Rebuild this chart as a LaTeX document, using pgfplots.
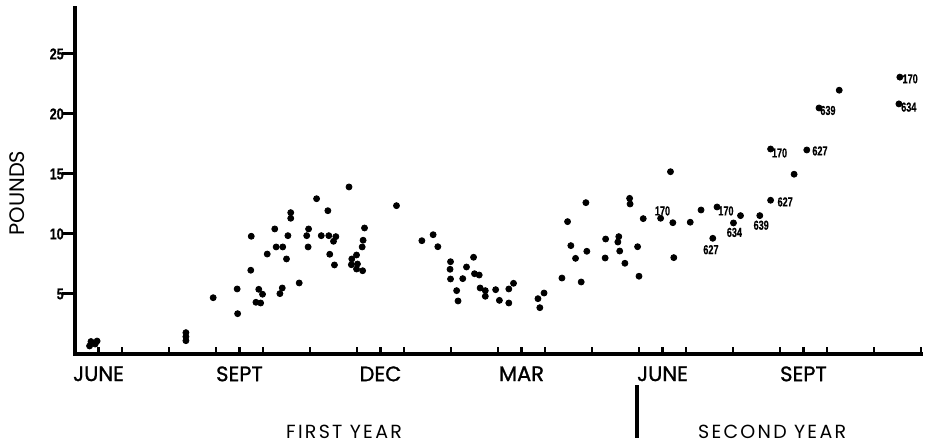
\documentclass[border=0pt]{standalone}
\usepackage{pgfplots}
\pgfplotsset{compat=1.18}
\usepackage{pgfplotstable}
\usepackage{fontspec}
\setmainfont{Poppins}
\newfontfamily\numfont[FakeStretch=0.8, FakeBold=0.6]{Liberation Sans}
\newfontfamily\lblfont[FakeStretch=0.7, FakeBold=0.4]{Liberation Sans}
\newfontfamily\monthfont[FakeBold=1.2]{Poppins}
\newfontfamily\yearfont[LetterSpace=12]{Poppins}
\newcommand\lbl{\fontsize{6.5pt}{7pt}\lblfont\bfseries}

% m = months after the first June tick, v = pounds
\pgfplotstableread{
m v
0.31 0.67
0.34 1.04
0.43 0.83
0.47 1.08
2.36 1.78
2.36 1.44
2.36 1.11
2.94 4.69
3.45 5.42
3.46 3.36
3.75 9.81
3.74 6.98
3.85 4.31
3.95 4.25
3.91 5.39
3.99 4.98
4.09 8.33
4.25 10.42
4.28 8.92
4.42 8.92
4.36 5.03
4.41 5.50
4.50 7.92
4.53 9.86
4.59 11.78
4.59 11.31
4.77 5.92
4.93 9.86
4.97 10.42
4.96 8.92
5.14 12.94
5.24 9.86
5.40 9.86
5.55 9.78
5.50 9.39
5.38 11.94
5.42 8.31
5.52 7.42
5.83 13.92
6.16 10.50
6.13 9.48
6.11 8.92
5.99 8.25
5.89 7.92
5.88 7.44
6.01 7.50
5.99 7.08
6.12 6.94
6.84 12.36
7.38 9.44
7.62 9.94
7.72 8.94
7.99 7.69
7.98 7.06
7.99 6.25
8.12 5.28
8.15 4.42
8.25 6.28
8.33 7.25
8.48 8.06
8.50 6.69
8.60 6.58
8.62 5.50
8.73 5.28
8.73 4.81
8.95 5.36
9.03 4.47
9.23 5.42
9.33 5.89
9.23 4.25
9.85 4.61
9.98 5.08
9.89 3.86
10.36 6.33
10.48 11.03
10.55 9.03
10.65 7.97
10.77 6.00
10.87 12.61
10.89 8.56
11.29 9.58
11.28 8.00
11.57 9.78
11.55 9.33
11.59 8.58
11.70 7.56
11.80 12.97
11.81 12.50
11.97 8.94
12.00 6.48
12.09 11.28
12.46 11.31
12.67 15.19
12.72 10.94
12.74 8.03
13.09 10.98
13.32 12.00
13.57 9.64
13.66 12.25
14.01 10.92
14.16 11.53
14.57 11.53
14.80 12.81
14.80 17.08
15.30 14.98
15.57 17.00
15.83 20.50
16.26 21.98
17.55 23.07
17.53 20.84
}\weights

\begin{document}
\begin{tikzpicture}
\begin{axis}[
  at={(0,0)}, anchor=south west,
  scale only axis, width=423pt, height=173pt,
  xmin=0, xmax=18, ymin=0, ymax=28.83,
  clip=false,
  axis x line*=bottom, axis y line*=left,
  axis line style={line width=2pt, line cap=rect},
  xtick={1,...,18}, xticklabels={},
  xtick align=inside, ytick align=outside,
  x tick style={line width=1.3pt, black, /pgfplots/major tick length=3.5pt},
  ytick={5,10,15,20,25},
  y tick style={line width=1.5pt, black, /pgfplots/major tick length=6.5pt},
  yticklabels={5,10,15,20,25},
  yticklabel style={font=\fontsize{7.8pt}{8pt}\numfont\bfseries, inner sep=0pt, xshift=-1.2pt},
  extra x ticks={0.5,3.5,6.5,9.5,12.5,15.5},
  extra x tick labels={JUNE,SEPT,DEC,MAR,JUNE,SEPT},
  extra x tick style={/pgfplots/major tick length=0pt,
     tick label style={font=\fontsize{10.5pt}{12pt}\monthfont, inner sep=0pt, anchor=north, yshift=-6pt}},
  ylabel={POUNDS},
  ylabel style={at={(axis description cs:-0.068,0.465)}, anchor=center, font=\fontsize{10.5pt}{12pt}\selectfont},
]
\addplot[only marks, mark=*, mark size=1.5pt, black] table[x=m, y=v]{\weights};

\node[font=\lbl] at (axis cs:12.50,11.92) {170};
\node[font=\lbl] at (axis cs:13.53,8.69) {627};
\node[font=\lbl] at (axis cs:13.85,11.92) {170};
\node[font=\lbl] at (axis cs:14.03,10.13) {634};
\node[font=\lbl] at (axis cs:14.60,10.73) {639};
\node[font=\lbl] at (axis cs:15.11,12.67) {627};
\node[font=\lbl] at (axis cs:14.99,16.75) {170};
\node[font=\lbl] at (axis cs:15.85,16.92) {627};
\node[font=\lbl] at (axis cs:16.02,20.29) {639};
\node[font=\lbl] at (axis cs:17.77,22.93) {170};
\node[font=\lbl] at (axis cs:17.74,20.57) {634};

\node[font=\fontsize{9.5pt}{12pt}\yearfont] at (axis description cs:0.318,-0.225) {FIRST YEAR};
\node[font=\fontsize{9.5pt}{12pt}\yearfont] at (axis description cs:0.824,-0.225) {SECOND YEAR};
\draw[line width=2pt] (axis description cs:0.6643,-0.0896) -- (axis description cs:0.6643,-0.2428);
\end{axis}
\pgfresetboundingbox
\path[use as bounding box] (-37.5pt,-45pt) rectangle (425pt,177pt);
\end{tikzpicture}
\end{document}
